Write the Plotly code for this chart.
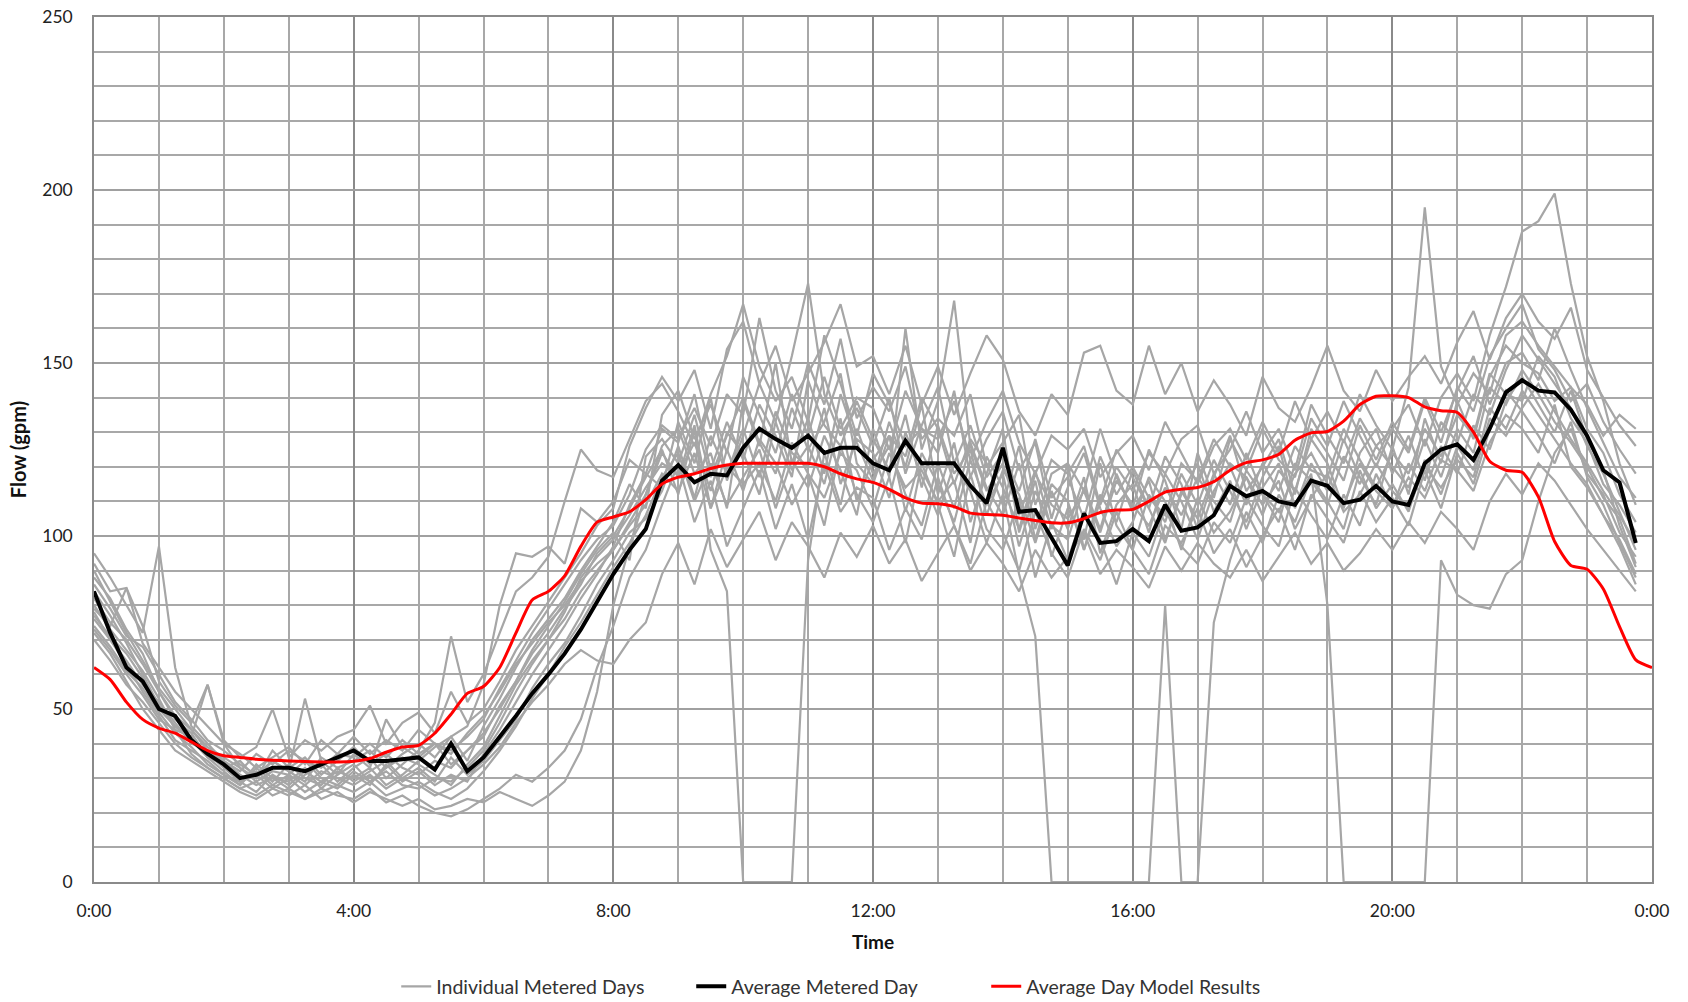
import plotly.graph_objects as go

# time axis (hours), 15-minute steps
times = [i * 0.25 for i in range(96)]
times_model = [i * 0.25 for i in range(97)]

x_tickvals = [0, 4, 8, 12, 16, 20, 24]
x_ticktext = ["0:00", "4:00", "8:00", "12:00", "16:00", "20:00", "0:00"]

average_metered = [
    84, 72, 62, 58, 50, 48, 41, 37, 34, 30, 31, 33, 33, 32, 34, 36,
    38, 35, 35, 35.5, 36, 32.5, 40, 32, 36, 42, 48, 54.5, 60, 66, 73, 81,
    89, 96, 102, 116, 120.5, 115.5, 118, 117.5, 125.5, 131, 128, 125.5, 129, 124, 125.5, 125.5,
    121, 119, 127.5, 121, 121, 121, 114.5, 109.5, 125.5, 107, 107.5, 99.5, 91.5, 106.5, 98, 98.5,
    102, 98.5, 109, 101.5, 102.5, 106, 114.5, 111.5, 113, 110, 109, 116, 114.5, 109.5, 110.5, 114.5,
    110, 109, 121, 125, 126.5, 122, 131, 141.5, 145, 142, 141.5, 136.5, 129, 119, 115.5, 98,
]

model_results = [
    62, 58.5, 52, 47, 44.5, 43, 40.5, 38, 36.5, 36, 35.5, 35.2, 35, 34.8, 34.7, 34.7,
    34.9, 35.7, 37.5, 39, 39.5, 43, 48.5, 54.5, 56.5, 62, 72, 81.5, 84, 88.5, 97, 104,
    105.5, 107, 110.5, 115, 117, 118, 119.5, 120.5, 121, 121, 121, 121, 121, 120, 118, 116.5,
    115.5, 113.5, 111, 109.5, 109.3, 108.5, 106.6, 106.2, 106, 105.2, 104.5, 103.8, 103.8, 105, 106.8, 107.5,
    107.7, 110, 112.7, 113.5, 114, 115.7, 119, 121.2, 122, 123.6, 127.7, 129.8, 130.2, 133.2, 138, 140.4,
    140.5, 140, 137.3, 136.2, 135.7, 130, 121.6, 119, 118.4, 111.3, 98.4, 91.5, 90.4, 84.7, 73.8, 64.2,
    62,
]

day_01 = [95, 88, 80, 72, 97, 62, 45, 40, 35, 31, 28, 30, 29, 33, 27, 31, 34, 29, 32, 28, 27, 30, 29, 33,
          38, 46, 55, 63, 70, 76, 84, 90, 96, 104, 112, 126, 131, 118, 124, 108, 139, 126, 150, 121, 134, 118, 141, 127,
          116, 133, 120, 138, 112, 127, 104, 118, 131, 101, 116, 94, 108, 99, 121, 103, 96, 112, 104, 118, 109, 122, 113, 104,
          117, 126, 108, 121, 113, 128, 117, 109, 126, 112, 134, 121, 139, 128, 146, 155, 150, 147, 139, 143, 131, 124, 112, 104]
day_02 = [78, 70, 64, 57, 52, 46, 40, 38, 33, 29, 31, 27, 30, 26, 29, 32, 30, 33, 28, 31, 35, 39, 42, 45,
          57, 80, 95, 94, 97, 92, 108, 104, 110, 122, 118, 131, 127, 141, 119, 133, 122, 138, 129, 117, 145, 132, 126, 139,
          128, 119, 135, 114, 132, 118, 125, 106, 119, 112, 98, 113, 102, 117, 95, 109, 115, 101, 118, 110, 99, 113, 121, 117,
          106, 119, 113, 128, 121, 108, 124, 131, 118, 129, 116, 133, 127, 141, 135, 148, 158, 151, 144, 137, 126, 118, 107, 96]
day_03 = [88, 82, 73, 66, 55, 47, 43, 36, 32, 28, 34, 30, 27, 31, 34, 29, 33, 36, 30, 34, 38, 46, 71, 52,
          60, 72, 84, 88, 94, 110, 125, 119, 117, 128, 139, 144, 136, 126, 141, 152, 167, 149, 139, 146, 133, 158, 144, 129,
          147, 138, 126, 131, 124, 142, 117, 128, 136, 119, 127, 105, 121, 113, 131, 117, 108, 125, 116, 102, 124, 111, 128, 119,
          131, 122, 117, 134, 126, 139, 129, 120, 131, 124, 139, 127, 143, 136, 152, 160, 167, 154, 148, 139, 144, 133, 125, 118]
day_04 = [72, 66, 58, 50, 44, 38, 35, 32, 29, 26, 24, 27, 25, 28, 24, 26, 23, 26, 24, 22, 24, 21, 22, 24,
          23, 26, 24, 22, 25, 29, 38, 55, 80, 97, 112, 124, 117, 132, 108, 125, 113, 128, 121, 109, 118, 103, 126, 112,
          104, 117, 98, 121, 109, 94, 118, 102, 96, 111, 88, 104, 93, 107, 99, 86, 101, 94, 108, 97, 92, 104, 98, 111,
          103, 97, 114, 106, 99, 112, 103, 118, 108, 121, 113, 126, 118, 132, 125, 139, 146, 138, 130, 142, 128, 119, 103, 91]
day_05 = [80, 73, 67, 61, 53, 44, 37, 33, 30, 27, 25, 28, 26, 24, 27, 25, 24, 27, 23, 25, 22, 20, 19, 21,
          24, 27, 31, 29, 33, 38, 47, 62, 74, 88, 96, 109, 121, 104, 116, 97, 108, 119, 102, 115, 99, 121, 107, 114,
          111, 96, 108, 99, 117, 103, 92, 110, 101, 90, 107, 95, 88, 102, 93, 107, 96, 89, 103, 98, 108, 95, 102, 91,
          100, 108, 96, 112, 105, 98, 113, 104, 111, 103, 119, 108, 124, 115, 131, 142, 136, 129, 121, 133, 117, 109, 98, 88]
day_06 = [84, 77, 69, 60, 51, 45, 42, 37, 33, 35, 30, 38, 33, 36, 31, 35, 39, 34, 37, 33, 31, 35, 33, 38,
          42, 51, 58, 66, 72, 79, 86, 95, 100, 108, 117, 125, 112, 131, 96, 84, 0, 0, 0, 0, 93, 124, 109, 131,
          118, 126, 112, 103, 121, 108, 127, 114, 106, 121, 99, 115, 110, 96, 112, 104, 119, 108, 98, 113, 105, 118, 109, 124,
          112, 104, 121, 116, 109, 123, 115, 126, 120, 114, 128, 117, 131, 124, 143, 138, 148, 141, 133, 127, 120, 111, 105, 92]
day_07 = [76, 70, 63, 55, 48, 41, 38, 35, 31, 28, 33, 29, 34, 30, 28, 33, 29, 32, 35, 30, 33, 29, 36, 31,
          35, 41, 47, 56, 63, 69, 77, 86, 93, 101, 105, 113, 126, 111, 129, 118, 131, 117, 136, 124, 120, 137, 115, 128,
          124, 111, 130, 117, 106, 121, 113, 98, 112, 89, 71, 0, 0, 0, 0, 0, 0, 0, 80, 0, 0, 75, 93, 107,
          98, 112, 104, 117, 110, 102, 119, 108, 115, 107, 122, 112, 126, 119, 137, 131, 142, 135, 128, 121, 115, 106, 99, 89]
day_08 = [90, 81, 72, 64, 56, 50, 44, 39, 36, 33, 29, 32, 31, 35, 30, 28, 32, 29, 33, 36, 34, 31, 28, 34,
          39, 48, 57, 64, 70, 78, 88, 94, 99, 106, 114, 121, 118, 127, 113, 130, 124, 112, 133, 119, 126, 115, 134, 110,
          122, 129, 107, 124, 115, 104, 122, 109, 118, 97, 113, 103, 99, 114, 102, 118, 107, 116, 99, 112, 121, 107, 116, 102,
          114, 121, 109, 118, 80, 0, 0, 0, 0, 0, 0, 93, 83, 80, 79, 89, 93, 110, 124, 131, 118, 112, 101, 94]
day_09 = [86, 79, 71, 68, 60, 52, 47, 41, 38, 34, 31, 35, 32, 29, 36, 33, 35, 38, 33, 37, 40, 36, 42, 35,
          45, 53, 62, 70, 76, 82, 90, 97, 104, 115, 108, 135, 142, 128, 138, 124, 146, 135, 124, 141, 129, 146, 131, 140,
          137, 125, 142, 131, 128, 139, 122, 133, 142, 127, 118, 129, 125, 131, 117, 124, 129, 119, 133, 124, 115, 126, 131, 122,
          133, 124, 139, 128, 136, 127, 141, 132, 125, 143, 195, 149, 138, 147, 141, 158, 162, 155, 149, 143, 138, 129, 135, 131]
day_10 = [82, 75, 70, 63, 55, 48, 44, 38, 35, 32, 37, 34, 38, 35, 33, 37, 36, 40, 36, 41, 37, 40, 38, 42,
          47, 56, 64, 72, 79, 86, 93, 99, 103, 112, 125, 132, 128, 137, 126, 141, 135, 163, 142, 131, 150, 138, 157, 134,
          143, 136, 149, 128, 134, 129, 141, 120, 127, 135, 109, 122, 118, 126, 109, 120, 113, 124, 118, 128, 132, 118, 125, 136,
          124, 131, 119, 138, 129, 121, 134, 126, 131, 138, 126, 140, 147, 139, 158, 172, 188, 191, 199, 173, 152, 139, 121, 109]
day_11 = [74, 68, 61, 56, 49, 43, 39, 34, 31, 29, 26, 31, 28, 32, 29, 27, 31, 28, 34, 29, 32, 28, 31, 29,
          37, 44, 52, 60, 67, 74, 82, 89, 97, 109, 118, 114, 133, 121, 140, 116, 129, 144, 133, 152, 173, 141, 129, 137,
          126, 140, 118, 132, 143, 121, 132, 117, 124, 113, 128, 111, 117, 105, 123, 112, 120, 111, 106, 121, 116, 128, 120, 109,
          121, 113, 126, 119, 117, 131, 122, 114, 124, 118, 131, 123, 135, 129, 147, 141, 139, 152, 146, 134, 127, 115, 109, 101]
day_12 = [70, 64, 57, 52, 46, 40, 36, 33, 30, 27, 29, 25, 27, 24, 26, 28, 26, 29, 25, 27, 29, 26, 24, 27,
          32, 38, 45, 53, 60, 68, 75, 83, 91, 98, 106, 117, 124, 110, 121, 109, 117, 125, 108, 122, 114, 129, 119, 106,
          131, 117, 160, 125, 139, 168, 126, 113, 121, 106, 119, 102, 114, 124, 108, 97, 104, 117, 110, 96, 111, 101, 107, 117,
          109, 116, 102, 111, 118, 107, 112, 121, 113, 108, 120, 114, 122, 117, 134, 129, 137, 144, 136, 128, 121, 113, 106, 98]
day_13 = [77, 71, 66, 59, 50, 45, 41, 36, 34, 30, 32, 28, 31, 28, 32, 30, 28, 31, 27, 30, 28, 25, 27, 30,
          34, 39, 46, 52, 57, 63, 67, 64, 63, 70, 75, 89, 98, 86, 102, 91, 99, 107, 93, 104, 97, 88, 101, 94,
          103, 92, 99, 87, 95, 103, 90, 98, 92, 84, 96, 88, 94, 101, 89, 96, 91, 85, 97, 90, 98, 92, 88, 96,
          87, 94, 101, 92, 98, 90, 95, 102, 96, 104, 98, 107, 102, 96, 110, 118, 112, 121, 116, 109, 102, 96, 90, 84]
day_14 = [92, 84, 85, 74, 58, 51, 46, 57, 41, 36, 39, 50, 36, 41, 38, 42, 44, 51, 40, 46, 49, 43, 55, 46,
          50, 58, 67, 74, 81, 88, 95, 103, 108, 126, 137, 146, 139, 148, 131, 154, 162, 144, 155, 139, 147, 156, 167, 149,
          152, 141, 155, 138, 149, 135, 147, 158, 151, 136, 129, 141, 135, 153, 155, 142, 138, 155, 141, 150, 136, 145, 138, 129,
          146, 137, 133, 143, 155, 142, 136, 148, 139, 146, 152, 144, 156, 165, 151, 163, 170, 162, 157, 166, 148, 140, 132, 126]
day_15 = [79, 74, 85, 69, 62, 55, 50, 45, 40, 37, 33, 36, 39, 34, 41, 37, 42, 37, 41, 38, 44, 40, 37, 43,
          48, 55, 63, 69, 75, 80, 87, 92, 96, 103, 109, 118, 113, 124, 108, 120, 115, 121, 110, 127, 118, 111, 124, 119,
          108, 124, 114, 119, 110, 116, 98, 123, 114, 102, 118, 109, 105, 113, 101, 116, 109, 103, 114, 106, 117, 110, 104, 119,
          112, 107, 118, 124, 115, 109, 121, 113, 108, 117, 111, 122, 119, 113, 127, 135, 131, 124, 138, 120, 114, 106, 97, 86]
day_16 = [73, 67, 60, 54, 47, 44, 42, 57, 40, 33, 30, 35, 32, 53, 35, 31, 37, 33, 47, 39, 36, 40, 34, 38,
          43, 50, 58, 67, 74, 81, 89, 96, 101, 93, 123, 128, 121, 135, 117, 129, 140, 127, 118, 137, 125, 133, 147, 121,
          115, 129, 123, 140, 131, 115, 128, 121, 109, 126, 102, 118, 121, 96, 110, 125, 117, 108, 123, 115, 102, 117, 129, 113,
          120, 128, 112, 131, 124, 116, 132, 122, 133, 125, 140, 130, 142, 152, 138, 150, 153, 145, 160, 148, 137, 127, 117, 111]

individual_days = [day_01, day_02, day_03, day_04, day_05, day_06, day_07, day_08,
                   day_09, day_10, day_11, day_12, day_13, day_14, day_15, day_16]

FONT = "Lato, 'Open Sans', sans-serif"
GRAY = "#a6a6a6"

fig = go.Figure()
for i, day in enumerate(individual_days):
    fig.add_trace(go.Scatter(
        x=times, y=day, mode="lines",
        line=dict(color=GRAY, width=2.2),
        name="Individual Metered Days",
        legendgroup="ind", showlegend=(i == 0),
        hoverinfo="skip",
    ))

fig.add_trace(go.Scatter(
    x=times, y=average_metered, mode="lines",
    line=dict(color="#000000", width=4),
    name="Average Metered Day",
))
fig.add_trace(go.Scatter(
    x=times_model, y=model_results, mode="lines",
    line=dict(color="#ff0000", width=3, shape="spline", smoothing=0.6),
    name="Average Day Model Results",
))

fig.update_layout(
    width=1688, height=1002,
    paper_bgcolor="white", plot_bgcolor="white",
    margin=dict(l=94, r=36, t=17, b=120, autoexpand=False),
    font=dict(family=FONT, size=17, color="#222"),
    showlegend=True,
    legend=dict(orientation="h", x=0.478, xanchor="center", y=-0.121, yanchor="middle",
                font=dict(size=19.5, color="#333"), entrywidth=250, entrywidthmode="pixels",
                tracegroupgap=0),
    xaxis=dict(
        range=[0, 24], tickvals=x_tickvals, ticktext=x_ticktext, automargin=False,
        showgrid=True, gridcolor="#8a8a8a", gridwidth=1.5,
        minor=dict(dtick=1, tick0=0, showgrid=True, gridcolor="#a8a8a8", gridwidth=1.5),
        showline=True, linecolor="#8a8a8a", linewidth=1.5, mirror=True,
        zeroline=False, ticks="", ticklabelstandoff=12,
        title=dict(text="<b>Time</b>", font=dict(size=19, color="#111"), standoff=16),
        tickfont=dict(size=17.5, color="#222"),
    ),
    yaxis=dict(
        range=[0, 250], tickvals=[0, 50, 100, 150, 200, 250], automargin=False,
        showgrid=True, gridcolor="#a0a0a0", gridwidth=1.5,
        minor=dict(dtick=10, tick0=0, showgrid=True, gridcolor="#a8a8a8", gridwidth=1.5),
        showline=True, linecolor="#8a8a8a", linewidth=1.5, mirror=True,
        zeroline=False, ticks="", ticklabelstandoff=16,
        title=dict(text="<b>Flow (gpm)</b>", font=dict(size=20, color="#111"), standoff=10),
        tickfont=dict(size=17.5, color="#222"),
    ),
)

fig.write_html("out.html", config={"displayModeBar": False},
               post_script="document.body.style.margin='0';document.body.style.overflow='hidden';")
